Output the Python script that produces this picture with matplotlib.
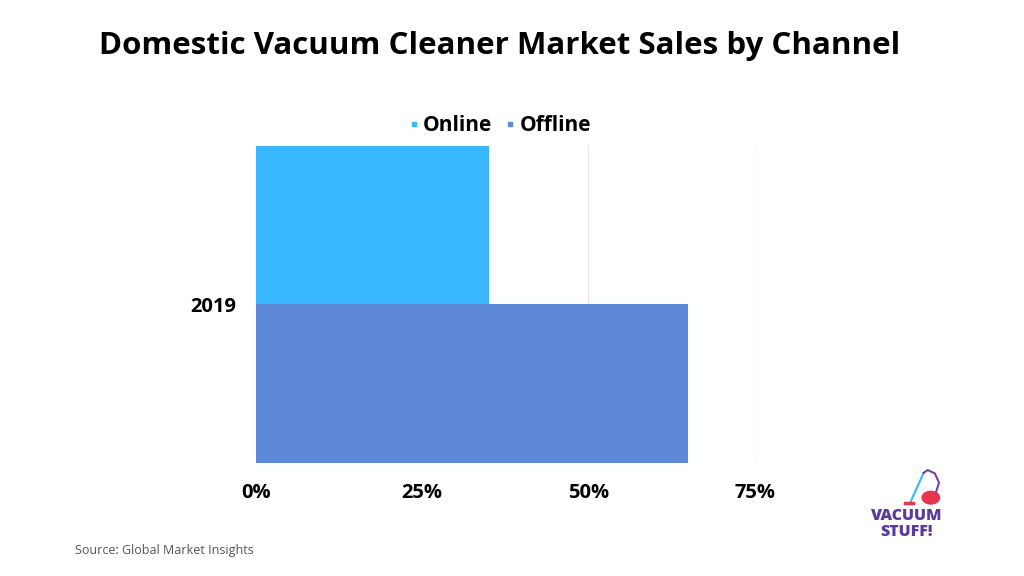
import matplotlib.pyplot as plt
from matplotlib.ticker import PercentFormatter
from matplotlib.patches import Ellipse

plt.rcParams['font.family'] = ['Open Sans', 'DejaVu Sans']

# data
years = ['2019']
channels = ['Online', 'Offline']
shares = [35, 65]
colors = ['#38b6ff', '#5e88d8']
x_ticks = [0, 25, 50, 75]

fig = plt.figure(figsize=(10.24, 5.76), dpi=100)
ax = fig.add_axes([0.25, 0.196, 0.487, 0.551])

# two bars share the single category row; online on top
offsets = [0.25, -0.25]
for name, val, col, off in zip(channels, shares, colors, offsets):
    ax.barh(0 + off, val, height=0.5, color=col, label=name, zorder=2)

ax.set_xlim(0, 75)
ax.set_ylim(-0.5, 0.5)
ax.set_xticks(x_ticks)
ax.xaxis.set_major_formatter(PercentFormatter(decimals=0))
ax.set_yticks([0])
ax.set_yticklabels(years)
ax.tick_params(length=0, labelsize=14.5, pad=14)
for lbl in ax.get_xticklabels() + ax.get_yticklabels():
    lbl.set_fontweight('bold')
ax.grid(axis='x', color='#e6e6e6', linewidth=1, zorder=0)
for s in ax.spines.values():
    s.set_visible(False)

# legend with tiny square markers
handles = [plt.Line2D([], [], marker='s', linestyle='', markersize=2.5, color=c) for c in colors]
fig.legend(handles, channels, loc='center', bbox_to_anchor=(0.488, 0.782), ncol=2,
           frameon=False, handlelength=0.5, handletextpad=0.2, columnspacing=0.6,
           prop={'weight': 'bold', 'size': 15})

fig.text(0.488, 0.921, 'Domestic Vacuum Cleaner Market Sales by Channel',
         ha='center', va='center', fontsize=22.5, fontweight='bold')
fig.text(0.073, 0.045, 'Source: Global Market Insights', ha='left', va='center',
         fontsize=9, color='#555555')

# logo: rough vacuum sketch plus text
tf = fig.transFigure
fig.add_artist(plt.Line2D([0.889, 0.902], [0.128, 0.179], color='#38b6ff', lw=1.5, transform=tf))
fig.add_artist(plt.Line2D([0.902, 0.906, 0.913, 0.917, 0.914], [0.179, 0.184, 0.178, 0.162, 0.145],
                          color='#7a3fa0', lw=1.5, transform=tf))
fig.add_artist(Ellipse((0.909, 0.136), 0.017, 0.022, color='#e8344e', transform=tf))
fig.add_artist(plt.Line2D([0.884, 0.892], [0.127, 0.127], color='#e8344e', lw=2.5, transform=tf))
fig.text(0.885, 0.090, 'VACUUM\nSTUFF!', ha='center', va='center', fontsize=11.5,
         fontweight='heavy', color='#5b3aa0', linespacing=0.95)

fig.savefig('out.png', dpi=100)
